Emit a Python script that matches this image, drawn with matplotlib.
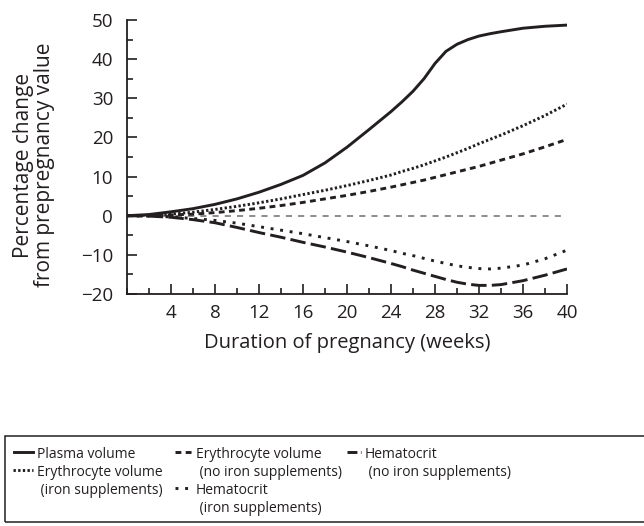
import numpy as np
import matplotlib.pyplot as plt
from matplotlib.patches import Rectangle
from matplotlib.lines import Line2D
from matplotlib.ticker import MultipleLocator

plt.rcParams['font.family'] = ['Open Sans', 'DejaVu Sans']

# weeks of pregnancy and percentage change from prepregnancy value
weeks = [0, 2, 4, 6, 8, 10, 12, 14, 16, 18, 20, 22, 24, 25, 26, 27, 28, 29, 30,
         31, 32, 33, 34, 36, 38, 40]
plasma = [0, 0.3, 1, 1.8, 2.9, 4.3, 6, 8, 10.3, 13.5, 17.5, 22, 26.6, 29.1, 31.8,
          35, 38.9, 42, 43.8, 45, 45.9, 46.5, 47, 47.9, 48.4, 48.7]
ery_iron = [0, 0.1, 0.4, 0.9, 1.6, 2.4, 3.3, 4.3, 5.4, 6.5, 7.7, 9, 10.4, 11.3, 12.1,
            13, 14, 15, 16.1, 17.2, 18.4, 19.5, 20.6, 23, 25.6, 28.5]
ery_no_iron = [0, 0, 0.2, 0.4, 0.8, 1.3, 1.9, 2.6, 3.4, 4.3, 5.2, 6.2, 7.3, 7.9, 8.5,
               9.1, 9.8, 10.5, 11.2, 11.9, 12.6, 13.4, 14.2, 15.8, 17.6, 19.5]
hct_iron = [0, -0.1, -0.3, -0.7, -1.2, -1.9, -2.8, -3.7, -4.6, -5.6, -6.6, -7.7, -8.9,
            -9.6, -10.2, -10.9, -11.6, -12.2, -12.8, -13.2, -13.5, -13.6, -13.4,
            -12.6, -11, -8.8]
hct_no_iron = [0, -0.1, -0.4, -1, -1.8, -3, -4.3, -5.5, -6.8, -8, -9.3, -10.7, -12.2,
               -13, -13.9, -14.7, -15.5, -16.3, -17, -17.5, -17.8, -17.8, -17.6,
               -16.6, -15.2, -13.6]

W, H = 644, 526
fig = plt.figure(figsize=(W/100, H/100), dpi=100)
ax = fig.add_axes([127/W, 1-294/H, 440/W, 274/H])

ink = '#231f20'
lw = 2.1
styles = {
    'plasma': dict(ls='-'),
    'ery_iron': dict(dashes=(0.8, 0.8)),
    'ery_no_iron': dict(dashes=(2.0, 1.5)),
    'hct_iron': dict(dashes=(1, 2.3)),
    'hct_no_iron': dict(dashes=(5.3, 1.8)),
}
ax.plot([0, 40], [0, 0], color='#6d6e71', lw=1.1, dashes=(4, 4))
ax.plot(weeks, plasma, color=ink, lw=lw, **styles['plasma'])
ax.plot(weeks, ery_iron, color=ink, lw=lw, **styles['ery_iron'])
ax.plot(weeks, ery_no_iron, color=ink, lw=lw, **styles['ery_no_iron'])
ax.plot(weeks, hct_iron, color=ink, lw=lw, **styles['hct_iron'])
ax.plot(weeks, hct_no_iron, color=ink, lw=lw, **styles['hct_no_iron'])

ax.set_xlim(0, 40)
ax.set_ylim(-20, 50)
for s in ['top', 'right']:
    ax.spines[s].set_visible(False)
for s in ['left', 'bottom']:
    ax.spines[s].set_linewidth(1.3)
    ax.spines[s].set_color(ink)

ax.set_xticks(range(4, 41, 4))
ax.xaxis.set_minor_locator(MultipleLocator(2))
ax.set_yticks(range(-20, 51, 10))
ax.yaxis.set_minor_locator(MultipleLocator(5))
ax.tick_params(which='both', direction='in', width=1.2, color=ink,
               labelsize=13.5, labelcolor=ink)
ax.tick_params(which='major', length=7)
ax.tick_params(axis='y', which='major', pad=10)
ax.tick_params(axis='x', which='major', pad=7)
ax.tick_params(which='minor', length=4.5)

ax.set_xlabel('Duration of pregnancy (weeks)', fontsize=14.5, color=ink, labelpad=8)
ax.set_ylabel('Percentage change\nfrom prepregnancy value', fontsize=15,
              color=ink, linespacing=1.0)
ax.yaxis.set_label_coords(-72/440, 0.47)

# legend box (manual layout to match the multi-column, hanging-indent look)
fig.patches.append(Rectangle((5/W, 1-522/H), 700/W, 86/H,
                             transform=fig.transFigure, fill=False,
                             edgecolor=ink, lw=1.1))
fs = 10
row_h = 18
entries = [
    ('plasma', 14, 33, 452, ['Plasma volume']),
    ('ery_iron', 13, 33, 470, ['Erythrocyte volume', ' (iron supplements)']),
    ('ery_no_iron', 175, 192, 452, ['Erythrocyte volume', ' (no iron supplements)']),
    ('hct_iron', 175, 192, 488, ['Hematocrit', ' (iron supplements)']),
    ('hct_no_iron', 347, 361, 452, ['Hematocrit', ' (no iron supplements)']),
]
for key, x0, x1, y, lines in entries:
    st = dict(styles[key])
    if key == 'hct_no_iron':
        st = dict(dashes=(3.4, 1.2))
    fig.add_artist(Line2D([x0/W, x1/W], [1-y/H, 1-y/H], transform=fig.transFigure,
                          color=ink, lw=lw, **st))
    for i, txt in enumerate(lines):
        fig.text((x1+4)/W, 1-(y + i*row_h)/H, txt, fontsize=fs, color=ink,
                 va='center_baseline', ha='left')

fig.savefig('out.png', dpi=100)
